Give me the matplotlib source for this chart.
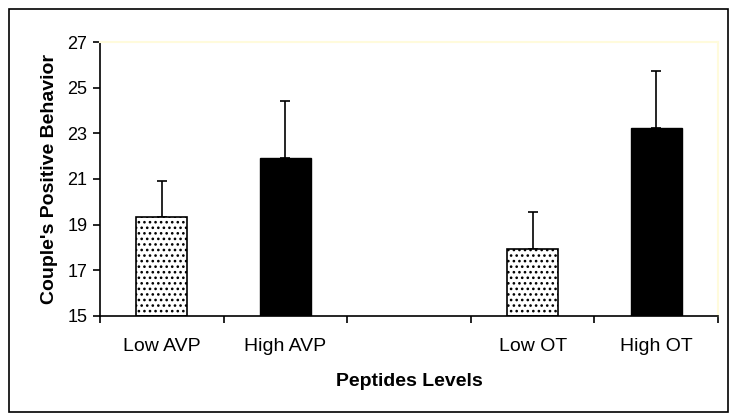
import numpy as np
import matplotlib.pyplot as plt
from matplotlib.patches import Rectangle

plt.rcParams['font.family'] = ['Liberation Sans', 'DejaVu Sans']
plt.rcParams['hatch.linewidth'] = 1.1

# datos
labels = ['Low AVP', 'High AVP', '', 'Low OT', 'High OT']
means = [19.35, 21.92, np.nan, 17.93, 23.25]
errs = [1.56, 2.5, np.nan, 1.6, 2.5]
is_high = [False, True, False, False, True]

fig = plt.figure(figsize=(7.35, 4.2), dpi=100)
ax = fig.add_axes([0.136, 0.248, 0.841, 0.652])

x = np.arange(len(labels))
for xi, m, e, hi in zip(x, means, errs, is_high):
    if np.isnan(m):
        continue
    if hi:
        ax.bar(xi, m - 15, bottom=15, width=0.41, color='black', edgecolor='black', lw=1, zorder=2)
    else:
        ax.bar(xi, m - 15, bottom=15, width=0.41, color='white', edgecolor='black', lw=1.2,
               hatch='...', zorder=2)
    ax.errorbar(xi, m, yerr=[[0], [e]], fmt='none', ecolor='black', elinewidth=1.2,
                capsize=3.6, capthick=1.2, zorder=1)

ax.set_xlim(-0.5, 4.5)
ax.set_ylim(15, 27)
ax.set_yticks(np.arange(15, 28, 2))
ax.set_xticks(x)
ax.set_xticklabels(labels, fontsize=14)
ax.set_xticks(np.arange(-0.5, 5, 1), minor=True)
ax.tick_params(axis='x', which='major', length=0, pad=16)
ax.tick_params(axis='x', which='minor', length=5, width=1.2, direction='out')
ax.tick_params(axis='y', length=5, width=1.2, labelsize=13, pad=4)

for s in ['left', 'bottom']:
    ax.spines[s].set_linewidth(1.2)
for s in ['top', 'right']:
    ax.spines[s].set_color('#fffbdc')
    ax.spines[s].set_linewidth(1.5)

ax.set_ylabel("Couple's Positive Behavior", fontsize=14, fontweight='bold', labelpad=7)
ax.set_xlabel('Peptides Levels', fontsize=14, fontweight='bold', labelpad=13)

fig.patches.append(Rectangle((9 / 735, 8 / 420), 719 / 735, 403 / 420, transform=fig.transFigure,
                             fill=False, edgecolor='black', lw=1.2))

plt.savefig('out.png', dpi=100)
